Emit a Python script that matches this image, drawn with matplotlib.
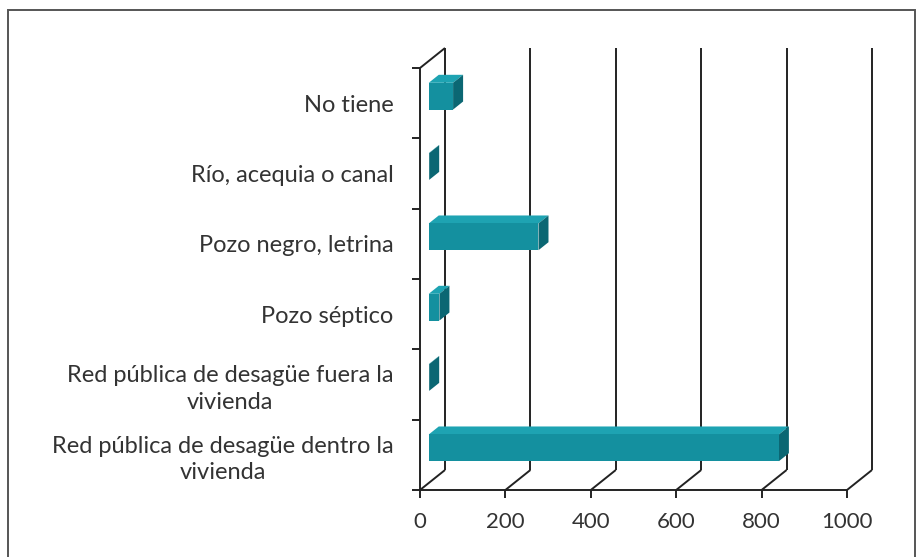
import numpy as np
import matplotlib
matplotlib.use("Agg")
import matplotlib.pyplot as plt
from matplotlib.patches import Polygon, Rectangle

# household sewage disposal, bottom category first
categories = [
    "Red pública de desagüe dentro la\nvivienda",
    "Red pública de desagüe fuera la\nvivienda",
    "Pozo séptico",
    "Pozo negro, letrina",
    "Río, acequia o canal",
    "No tiene",
]
values = [820, 1, 25, 257, 1, 57]
xticks = [0, 200, 400, 600, 800, 1000]

FRONT = "#14909f"
TOP = "#1ea3b2"
SIDE = "#0b6773"
LINE = "#222222"

plt.rcParams["font.family"] = ["Lato", "DejaVu Sans"]

W, H = 922, 557
fig = plt.figure(figsize=(W / 100, H / 100), dpi=100)
fig.patches.append(Rectangle((8 / W, -0.01), 907 / W, 1 - 10 / H + 0.01,
                             transform=fig.transFigure, fill=False,
                             edgecolor="#555555", lw=1.4))

# front plane of the 3-D box
ax = fig.add_axes([420 / W, 1 - 490 / H, 427 / W, 422 / H])
n = len(categories)
ax.set_xlim(0, 1000)
ax.set_ylim(0, n)
for s in ax.spines.values():
    s.set_visible(False)

# depth offset of the back wall, in data units
DX = 25 / 427 * 1000
DY = 20 / 422 * n

kw = dict(color=LINE, lw=1.4, clip_on=False, solid_capstyle="butt", zorder=1)
for v in xticks:
    ax.plot([v + DX, v + DX], [DY, n + DY], **kw)
    ax.plot([v, v + DX], [0, DY], **kw)
ax.plot([0, 1000], [0, 0], **kw)
ax.plot([0, 0], [0, n], **kw)
ax.plot([0, DX], [n, n + DY], **kw)

# 3-D bars: front face at depth f0, back face at depth f1
f0, f1, h = 0.35, 0.75, 0.38
for i in range(n - 1, -1, -1):
    v = values[i]
    c = i + 0.5
    x0, y0 = f0 * DX, c - h / 2 + f0 * DY
    x1, y1 = f1 * DX, c - h / 2 + f1 * DY
    top = Polygon([(x0, y0 + h), (x0 + v, y0 + h), (x1 + v, y1 + h), (x1, y1 + h)],
                  closed=True, facecolor=TOP, edgecolor="none", clip_on=False, zorder=3)
    side = Polygon([(x0 + v, y0), (x0 + v, y0 + h), (x1 + v, y1 + h), (x1 + v, y1)],
                   closed=True, facecolor=SIDE, edgecolor="none", clip_on=False, zorder=3)
    front = Rectangle((x0, y0), v, h, facecolor=FRONT, edgecolor="none",
                      clip_on=False, zorder=3)
    ax.add_patch(top)
    ax.add_patch(side)
    ax.add_patch(front)

ax.set_xticks(xticks)
ax.set_xticklabels([str(t) for t in xticks], fontsize=16, color="#333333")
ax.tick_params(axis="x", direction="out", length=6, width=1.4, color=LINE, pad=10)

ax.set_yticks(np.arange(n + 1))
ax.set_yticklabels([])
ax.tick_params(axis="y", which="major", direction="out", length=6, width=1.4, color=LINE)
ax.set_yticks(np.arange(n) + 0.5, minor=True)
ax.set_yticklabels(categories, minor=True, fontsize=17, color="#333333",
                   linespacing=1.3)
ax.tick_params(axis="y", which="minor", length=0, pad=19)
for lab in ax.get_yticklabels(minor=True):
    lab.set_multialignment("center")

fig.savefig("out.png", dpi=100)
